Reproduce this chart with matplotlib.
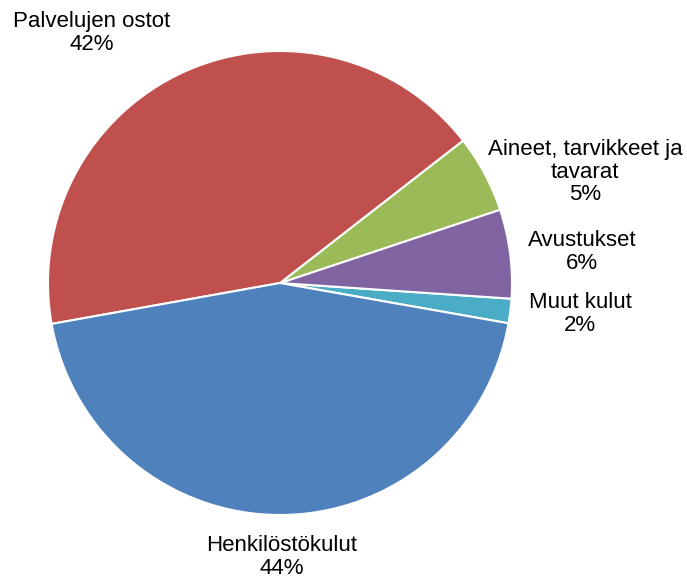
import matplotlib.pyplot as plt

plt.rcParams["font.family"] = ["Liberation Sans", "DejaVu Sans"]

# data (share of costs, %), counter-clockwise from the lower right
labels = ["Muut kulut", "Avustukset", "Aineet, tarvikkeet ja\ntavarat",
          "Palvelujen ostot", "Henkilöstökulut"]
values = [1.7, 6.2, 5.4, 42.3, 44.4]
colors = ["#4BACC6", "#8064A2", "#9BBB59", "#C0504D", "#4F81BD"]

# label positions in units of pie radius
label_pos = [(1.293, -0.134), (1.302, 0.134), (1.315, 0.478),
             (-0.81, 1.078), (0.009, -1.181)]

W, H = 687, 579
cx, cy, R = 280, 283, 232

fig = plt.figure(figsize=(W / 100, H / 100), dpi=100)
ax = fig.add_axes([0, 0, 1, 1])
ax.pie(values, colors=colors, startangle=350, counterclock=True,
       radius=1.0, wedgeprops=dict(edgecolor="white", linewidth=1.5))
ax.set_aspect("auto")
ax.set_xlim(-cx / R, (W - cx) / R)
ax.set_ylim((cy - H) / R, cy / R)
ax.axis("off")

total = sum(values)
for lab, v, (x, y) in zip(labels, values, label_pos):
    ax.text(x, y, f"{lab}\n{round(v / total * 100):.0f}%", ha="center",
            va="center", fontsize=16, color="#000000", linespacing=1.08)

fig.savefig("out.png", dpi=100, facecolor="white")
